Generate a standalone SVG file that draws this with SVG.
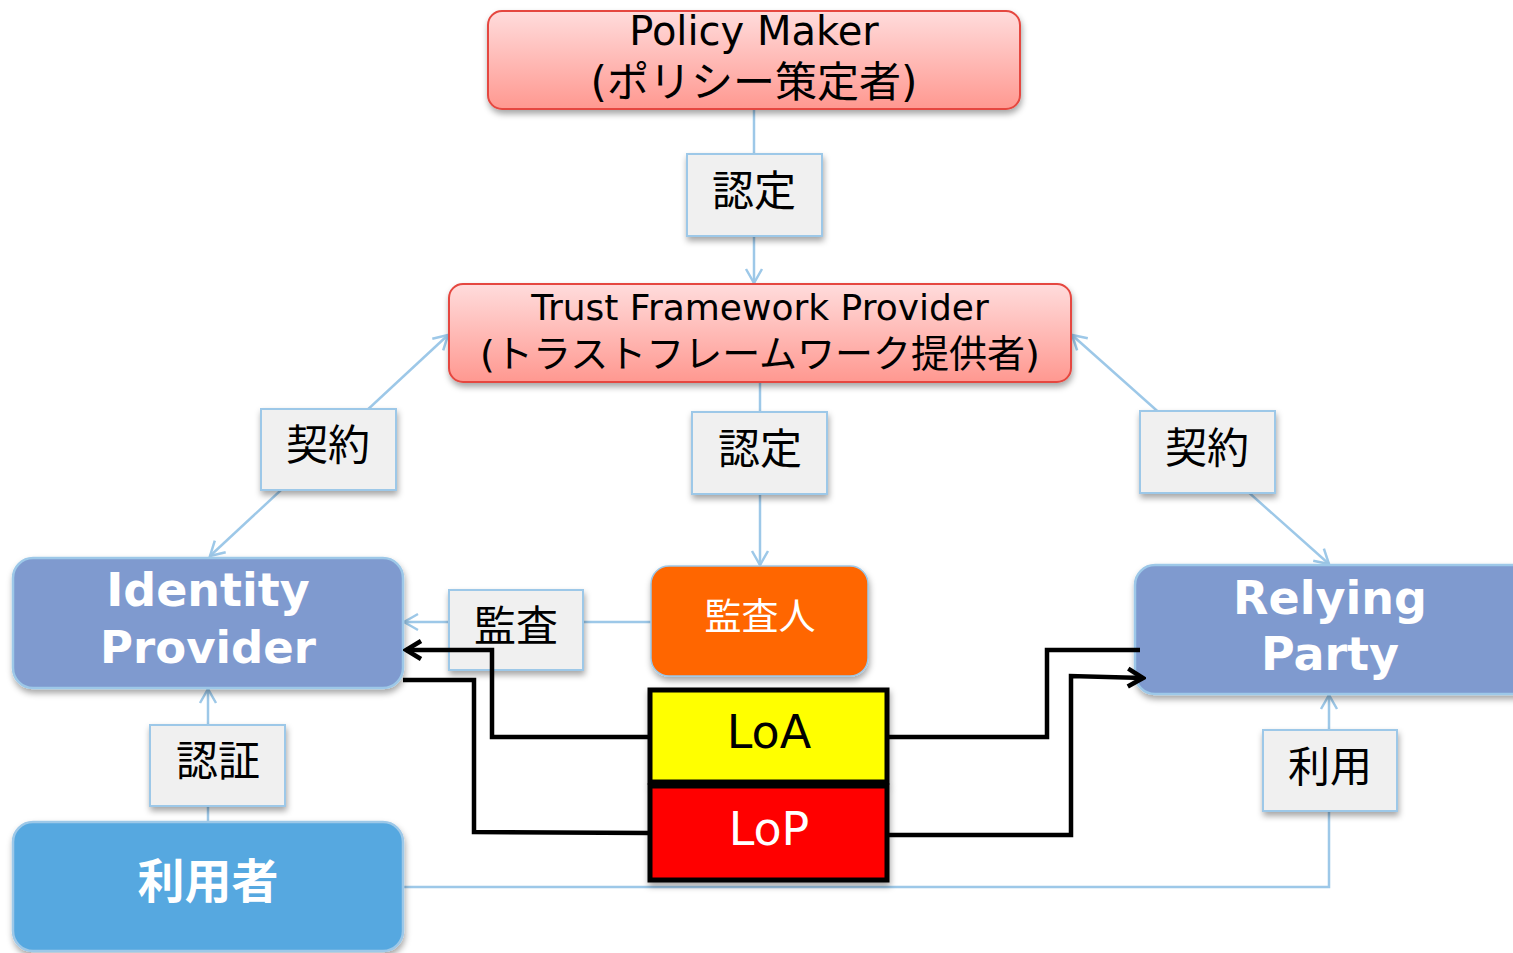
<svg xmlns="http://www.w3.org/2000/svg" width="1513" height="953" viewBox="0 0 1513 953">
<defs>
<linearGradient id="pink" x1="0" y1="0" x2="0" y2="1">
<stop offset="0" stop-color="#FFDCDC"/>
<stop offset="1" stop-color="#FF9890"/>
</linearGradient>
<filter id="sh" x="-10%" y="-10%" width="125%" height="135%">
<feDropShadow dx="1" dy="4" stdDeviation="3" flood-color="#000" flood-opacity="0.35"/>
</filter>
<marker id="ab" viewBox="0 0 20 20" refX="18" refY="10" markerWidth="20" markerHeight="20" markerUnits="userSpaceOnUse" orient="auto-start-reverse">
<path d="M4,2 L18,10 L4,18" fill="none" stroke="#9DC8E8" stroke-width="2.5"/>
</marker>
<marker id="ak" viewBox="0 0 24 24" refX="21" refY="12" markerWidth="24" markerHeight="24" markerUnits="userSpaceOnUse" orient="auto">
<path d="M6,3 L21,12 L6,21" fill="none" stroke="#000" stroke-width="4.5" stroke-linejoin="miter"/>
</marker>
</defs>
<style>
.lt{fill:none;stroke:#9DC8E8;stroke-width:2.5}
.bk{fill:none;stroke:#000;stroke-width:4.5}
.lbl{fill:#F0F0F0;stroke:#9DC8E8;stroke-width:2}
.red{fill:url(#pink);stroke:#E5473F;stroke-width:2}
.blue{fill:#7F9ACF;stroke:#9DC8E8;stroke-width:2.5}
.t{font-family:"DejaVu Sans","Noto Sans CJK JP",sans-serif;text-anchor:middle}
.j{font-family:"Noto Sans CJK JP",sans-serif;text-anchor:middle}
.lj{font-size:42px}
.w{fill:#fff;font-weight:bold}
</style>
<g id="connectors">
<line class="lt" x1="754" y1="109" x2="754" y2="283" marker-end="url(#ab)"/>
<line class="lt" x1="760" y1="382" x2="760" y2="565" marker-end="url(#ab)"/>
<line class="lt" x1="210" y1="556" x2="448" y2="335" marker-start="url(#ab)" marker-end="url(#ab)"/>
<line class="lt" x1="1329" y1="564" x2="1072" y2="335" marker-start="url(#ab)" marker-end="url(#ab)"/>
<line class="lt" x1="651" y1="622" x2="404" y2="622" marker-end="url(#ab)"/>
<line class="lt" x1="208" y1="822" x2="208" y2="689" marker-end="url(#ab)"/>
<polyline class="lt" points="403,887 1329,887 1329,695" marker-end="url(#ab)"/>
</g>
<g id="policy-maker">
<rect class="red" x="488" y="11" width="532" height="98" rx="14" filter="url(#sh)"/>
<text class="t" x="754" y="45" font-size="40">Policy Maker</text>
<text class="t" x="754" y="97" font-size="42">(ポリシー策定者)</text>
</g>
<g id="trust-framework-provider">
<rect class="red" x="449" y="284" width="622" height="98" rx="14" filter="url(#sh)"/>
<text class="t" x="760" y="320" font-size="36">Trust Framework Provider</text>
<text class="t" x="760" y="367" font-size="38">(トラストフレームワーク提供者)</text>
</g>
<g id="label-nintei1">
<rect class="lbl" x="687" y="154" width="135" height="82" filter="url(#sh)"/>
<text class="j lj" x="754" y="206">認定</text>
</g>
<g id="label-nintei2">
<rect class="lbl" x="692" y="412" width="135" height="82" filter="url(#sh)"/>
<text class="j lj" x="760" y="464">認定</text>
</g>
<g id="label-keiyaku-left">
<rect class="lbl" x="261" y="409" width="135" height="81" filter="url(#sh)"/>
<text class="j lj" x="328" y="460">契約</text>
</g>
<g id="label-keiyaku-right">
<rect class="lbl" x="1140" y="411" width="135" height="82" filter="url(#sh)"/>
<text class="j lj" x="1207" y="463">契約</text>
</g>
<g id="identity-provider">
<rect class="blue" x="13" y="558" width="390" height="130" rx="20" filter="url(#sh)"/>
<text class="t w" x="208" y="606" font-size="46">Identity</text>
<text class="t w" x="208" y="663" font-size="45">Provider</text>
</g>
<g id="label-kansa">
<rect class="lbl" x="449" y="590" width="134" height="80" filter="url(#sh)"/>
<text class="j lj" x="516" y="641">監査</text>
</g>
<g id="auditor">
<rect x="651" y="566" width="217" height="110" rx="18" fill="#FF6600" stroke="#9DC8E8" stroke-width="1.5" filter="url(#sh)"/>
<text class="j" x="760" y="630" font-size="37" fill="#fff">監査人</text>
</g>
<g id="relying-party">
<rect class="blue" x="1135" y="565" width="400" height="129" rx="20" filter="url(#sh)"/>
<text class="t w" x="1330" y="614" font-size="46">Relying</text>
<text class="t w" x="1330" y="670" font-size="46">Party</text>
</g>
<g id="loa">
<rect x="650" y="690" width="237" height="92" fill="#FFFF00" stroke="#000" stroke-width="5" filter="url(#sh)"/>
<text class="t" x="769" y="748" font-size="46">LoA</text>
</g>
<g id="lop">
<rect x="650" y="786" width="237" height="94" fill="#FF0000" stroke="#000" stroke-width="5" filter="url(#sh)"/>
<text class="t" x="769" y="845" font-size="46" fill="#fff">LoP</text>
</g>
<g id="label-ninsho">
<rect class="lbl" x="150" y="725" width="135" height="81" filter="url(#sh)"/>
<text class="j lj" x="218" y="776">認証</text>
</g>
<g id="label-riyo">
<rect class="lbl" x="1263" y="730" width="134" height="81" filter="url(#sh)"/>
<text class="j lj" x="1330" y="782">利用</text>
</g>
<g id="user">
<rect x="13" y="822" width="390" height="129" rx="20" fill="#56A8E0" stroke="#9DC8E8" stroke-width="2.5" filter="url(#sh)"/>
<text class="j w" x="208" y="898" font-size="47">利用者</text>
</g>
<g id="black-connectors">
<polyline class="bk" points="650,737 492,737 492,650 406,650" marker-end="url(#ak)"/>
<polyline class="bk" points="650,833 474,832 474,680 403,680"/>
<polyline class="bk" points="887,737 1047,737 1047,650 1140,650"/>
<polyline class="bk" points="887,835 1071,835 1071,676 1143,678" marker-end="url(#ak)"/>
</g>
</svg>
